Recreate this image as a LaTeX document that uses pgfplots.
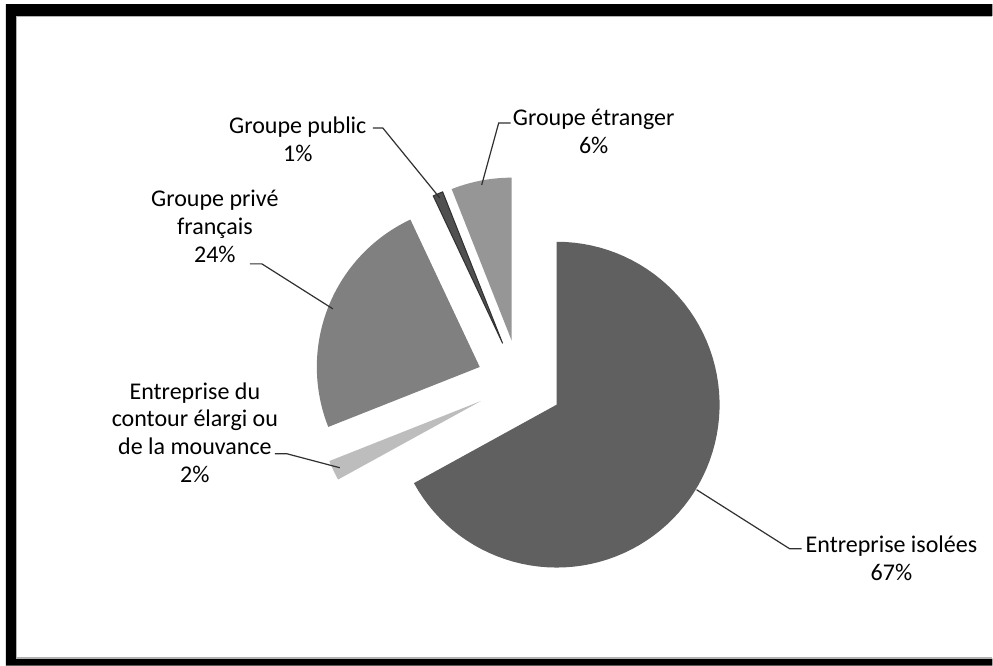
\documentclass[border=0pt]{standalone}
\usepackage{fontspec}
\setmainfont{Carlito}
\usepackage{pgfplots}
\usepackage{pgfplotstable}
\pgfplotsset{compat=1.18}
\definecolor{cIso}{HTML}{606060}
\definecolor{cCont}{HTML}{BDBDBD}
\definecolor{cPriv}{HTML}{808080}
\definecolor{cPub}{HTML}{505050}
\definecolor{cEtr}{HTML}{969696}
\definecolor{leader}{HTML}{303030}
\tikzset{lbl/.style={font=\fontsize{12pt}{14pt}\selectfont, align=center, inner sep=0pt, text=black}}
% slice: start cumulative %, end cumulative %, colour, extra options
\newcommand\slice[4]{%
  \pgfmathsetmacro\sa{3.6*#1}%
  \pgfmathsetmacro\ea{3.6*#2}%
  \pgfmathsetmacro\ax{520+43*sin(1.8*(#1+#2))}%
  \pgfmathsetmacro\ay{383-43*cos(1.8*(#1+#2))}%
  \edef\doslice{\noexpand\addplot[fill=#3, draw=none, #4, domain=\sa:\ea, samples=80, variable=\noexpand\t]
    ({\ax+163*sin(\noexpand\t)}, {\ay-163*cos(\noexpand\t)}) -- (axis cs:\ax,\ay) -- cycle;}%
  \doslice}
\begin{document}
\begin{tikzpicture}
\begin{axis}[scale only axis, width=496.5pt, height=333pt,
  xmin=0, xmax=993, ymin=0, ymax=666, y dir=reverse,
  axis lines=none, clip=false]
% background (fixes the picture's extent)
\addplot[fill=white, draw=none] coordinates {(0,0) (993,0) (993,666) (0,666)} -- cycle;
% frame
\addplot[fill=black, draw=none] coordinates {(6,4) (993,4) (993,16) (16,16) (16,659) (993,659) (993,666) (6,666)} -- cycle;
\addplot[color=gray!60, line width=0.6pt] coordinates {(993,16.6) (16.6,16.6) (16.6,658.4) (993,658.4)};
% pie slices (percentages: 67, 2, 24, 1, 6)
\slice{0}{67}{cIso}{}
\slice{67}{69}{cCont}{}
\slice{69}{93}{cPriv}{}
\slice{93}{94}{cPub}{draw=leader, line width=0.5pt}
\slice{94}{100}{cEtr}{}
% leader lines
\addplot[leader, line width=0.6pt] coordinates {(373,128) (383,128) (440,198)};
\addplot[leader, line width=0.6pt] coordinates {(511,123) (499,123) (482,185)};
\addplot[leader, line width=0.6pt] coordinates {(250,264) (262,264) (333,309)};
\addplot[leader, line width=0.6pt] coordinates {(275,454) (287,454) (340,468)};
\addplot[leader, line width=0.6pt] coordinates {(697,490) (790,549) (802,549)};
% labels
\node[lbl] at (axis cs:298,139) {Groupe public\\1\%};
\node[lbl] at (axis cs:594,131) {Groupe étranger\\6\%};
\node[lbl] at (axis cs:215,226) {Groupe privé\\français\\24\%};
\node[lbl] at (axis cs:195,433) {Entreprise du\\contour élargi ou\\de la mouvance\\2\%};
\node[lbl] at (axis cs:892,559) {Entreprise isolées\\67\%};
\end{axis}
\end{tikzpicture}
\end{document}
